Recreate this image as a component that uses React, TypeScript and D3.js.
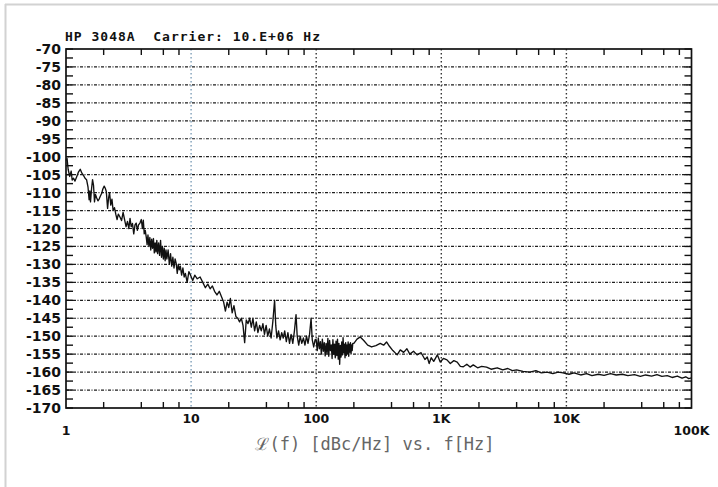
import React from "react";
import * as d3 from "d3";

const titleText = "HP 3048A  Carrier: 10.E+06 Hz";
const axisTitle = "ℒ(f) [dBc/Hz] vs. f[Hz]";
const yTicks = [-70, -75, -80, -85, -90, -95, -100, -105, -110, -115, -120, -125, -130, -135, -140, -145, -150, -155, -160, -165, -170];
const xDecades = [1, 10, 100, 1000, 10000, 100000];
const xLabels = ["1", "10", "100", "1K", "10K", "100K"];

// phase noise readings [frequency Hz, dBc/Hz]
const seg1: [number, number][] = [
  [1.0, -101.0], [1.02, -100.5], [1.04, -103.5], [1.07, -105.5], [1.1, -104.0], [1.12, -106.5], [1.15, -106.0],
  [1.18, -106.8], [1.22, -105.5], [1.26, -104.2], [1.3, -103.5], [1.34, -104.6], [1.38, -105.2], [1.42, -106.0],
  [1.46, -106.4], [1.5, -108.5], [1.53, -112.0], [1.55, -109.5], [1.57, -112.6], [1.6, -109.0], [1.63, -106.4],
  [1.66, -108.0], [1.69, -112.6], [1.72, -110.5], [1.76, -111.5], [1.8, -112.3], [1.84, -111.8], [1.88, -111.0],
  [1.93, -110.2], [1.97, -109.0], [2.02, -108.2], [2.06, -108.8], [2.1, -109.7], [2.15, -114.4], [2.19, -111.5],
  [2.23, -110.0], [2.28, -113.5], [2.33, -111.8], [2.38, -115.0], [2.44, -114.2], [2.5, -116.0], [2.56, -117.5],
  [2.62, -116.0], [2.7, -116.8], [2.78, -117.8], [2.86, -115.5], [2.94, -117.5], [3.02, -119.5], [3.1, -118.0],
  [3.18, -120.0], [3.25, -117.2], [3.32, -119.5], [3.4, -118.6], [3.48, -121.5], [3.56, -119.0], [3.64, -118.5],
  [3.72, -120.5], [3.8, -119.0], [3.9, -118.5], [4.0, -117.5], [4.08, -120.0], [4.15, -117.7], [4.22, -121.5],
  [4.3, -120.5], [4.38, -122.4], [4.45, -124.5], [4.52, -121.8], [4.6, -125.0], [4.68, -122.5], [4.76, -126.0],
  [4.84, -123.0], [4.92, -125.5], [5.0, -122.8], [5.08, -126.8], [5.16, -124.0], [5.24, -126.5], [5.32, -123.3],
  [5.4, -127.0], [5.5, -124.0], [5.6, -127.5], [5.7, -123.3], [5.8, -128.0], [5.9, -125.0], [6.0, -128.5],
  [6.1, -125.5], [6.2, -129.0], [6.3, -126.0], [6.4, -128.5], [6.55, -126.0], [6.7, -130.0], [6.85, -127.0],
  [7.0, -130.5], [7.15, -128.0], [7.3, -131.0], [7.45, -128.5], [7.6, -129.7], [7.75, -132.5], [7.9, -130.0],
  [8.05, -131.5], [8.2, -130.5], [8.4, -133.0], [8.6, -131.0], [8.8, -133.5], [9.0, -132.5], [9.3, -135.0],
  [9.6, -132.0], [9.9, -133.0],
];
const seg2: [number, number][] = [
  [10.3, -134.5], [10.7, -133.0], [11.2, -134.0], [11.8, -133.5], [12.4, -135.0], [13.0, -136.5], [13.6, -135.5],
  [14.2, -136.8], [14.8, -136.0], [15.4, -137.5], [16.1, -138.5], [16.8, -137.5], [17.5, -139.0], [18.2, -140.5],
  [18.8, -143.0], [19.4, -140.5], [20.0, -142.0], [20.6, -139.5], [21.3, -143.5], [22.0, -141.5], [22.8, -144.5],
  [23.6, -145.0], [24.4, -146.0], [25.2, -145.0], [26.0, -147.0], [26.8, -151.8], [27.6, -145.5], [28.5, -146.5],
  [29.4, -145.0], [30.3, -147.5], [31.2, -145.0], [32.2, -148.5], [33.2, -146.0], [34.2, -149.0], [35.3, -147.0],
  [36.4, -148.5], [37.5, -146.5], [38.6, -149.5], [39.8, -147.0], [41.0, -150.0], [42.3, -148.0], [43.6, -150.5],
  [45.0, -146.0], [46.5, -140.0], [47.5, -147.0], [48.5, -150.5], [50.0, -148.5], [51.5, -151.0], [53.0, -149.0],
  [54.5, -150.5], [56.0, -148.5], [57.7, -151.5], [59.4, -149.0], [61.2, -152.0], [63.0, -149.5], [65.0, -152.0],
  [67.0, -148.5], [69.0, -144.0], [70.5, -150.0], [72.5, -152.5], [74.5, -150.0], [76.7, -152.0], [79.0, -150.5],
  [81.3, -152.5], [83.7, -150.0], [86.0, -152.0], [88.5, -149.5], [91.0, -145.0], [93.0, -151.0], [95.5, -153.0],
  [98.0, -151.0],
];
const seg3: [number, number][] = [
  [100, -151.0], [102, -154.0], [104, -150.5], [106, -153.5], [108, -151.5], [110, -155.0], [112, -150.8],
  [114, -154.2], [116, -151.8], [118, -155.5], [120, -152.0], [122, -154.8], [124, -150.6], [126, -155.6],
  [128, -151.2], [130, -154.0], [132, -152.4], [134, -156.2], [136, -151.0], [138, -155.0], [140, -152.2],
  [142, -156.0], [144, -151.4], [146, -155.4], [148, -150.8], [150, -156.4], [152, -152.0], [154, -157.8],
  [156, -152.6], [158, -155.8], [160, -151.6], [162, -155.2], [164, -150.4], [166, -154.6], [168, -152.2],
  [170, -156.0], [172, -151.8], [174, -155.4], [176, -152.4], [178, -154.8], [180, -151.6], [182, -155.6],
  [184, -152.2], [186, -154.4], [188, -151.8], [190, -154.8], [192, -152.4], [194, -154.0], [196, -152.0],
  [200, -152.0], [212, -150.8], [225, -150.2], [240, -151.2], [258, -152.5], [277, -153.0], [300, -152.6],
  [325, -152.0], [346, -152.5], [365, -151.6], [385, -152.8], [410, -154.0], [444, -155.2], [470, -153.8],
  [500, -154.5], [531, -153.5], [560, -155.0], [600, -154.2], [640, -155.2], [690, -154.6], [740, -156.5],
  [772, -155.8], [800, -157.6], [830, -156.0], [870, -157.0], [930, -155.2], [980, -157.2],
];
const seg4: [number, number][] = [
  [1040, -156.2], [1110, -156.6], [1180, -157.6], [1260, -156.8], [1340, -157.2], [1420, -158.4], [1500, -158.5],
  [1600, -157.8], [1700, -158.6], [1800, -158.0], [1950, -158.8], [2100, -158.4], [2300, -158.6], [2500, -159.2],
  [2800, -158.8], [3100, -159.4], [3400, -159.0], [3700, -159.6], [4000, -159.4], [4500, -159.8], [5100, -160.0],
  [5700, -159.6], [6300, -160.2], [7000, -160.0], [7800, -160.4], [8600, -160.0], [9400, -160.2], [10500, -160.6],
  [11500, -160.2], [13000, -160.8], [14500, -160.4], [16000, -161.0], [18000, -160.6], [20000, -160.9],
  [22500, -160.4], [25000, -160.8], [28000, -160.6], [31000, -161.0], [35000, -160.7], [39000, -161.2],
  [43000, -160.8], [48000, -161.1], [53000, -160.7], [58000, -161.2], [64000, -161.0], [70000, -161.5],
  [77000, -161.1], [84000, -161.7], [90000, -161.3], [95000, -161.8], [100000, -161.6],
];

export default function App() {
  const W = 718, H = 487;
  const x = d3.scaleLog().domain([1, 1e5]).range([66, 691.5]);
  const y = d3.scaleLinear().domain([-170, -70]).range([408, 49]);
  const data = [...seg1, ...seg2, ...seg3, ...seg4];
  const line = d3.line<[number, number]>().x((d) => x(d[0])).y((d) => y(d[1]));

  const minorX: number[] = [];
  xDecades.slice(0, -1).forEach((dec) => [2, 4, 6, 8].forEach((m) => minorX.push(dec * m)));
  const yMinor = d3.range(-170, -69.9, 2.5);
  const [x0, x1] = x.range();
  const [yB, yT] = y.range();

  return (
    <svg width={W} height={H} style={{ position: "absolute", left: 0, top: 0, background: "#fff" }}>
      <rect x={0} y={0} width={W} height={H} fill="#fff" />
      <line x1={5} y1={4.5} x2={W} y2={4.5} stroke="#d2d2d2" strokeWidth={2} />
      <line x1={5.5} y1={4} x2={5.5} y2={H} stroke="#d2d2d2" strokeWidth={2} />

      {/* horizontal grid */}
      {yTicks.slice(1, -1).map((v) => (
        <line key={"hg" + v} x1={x0} x2={x1} y1={y(v)} y2={y(v)} stroke="#1e1e1e" strokeWidth={1.2} strokeDasharray="3,1.5,1,1.5" />
      ))}
      {/* vertical grid */}
      {xDecades.slice(1, -1).map((v) => (
        <line key={"vg" + v} x1={x(v)} x2={x(v)} y1={yT} y2={yB} stroke={v === 10 ? "#7f9fb8" : "#333"} strokeWidth={1.4} strokeDasharray="1.5,2.5" />
      ))}

      {/* ticks */}
      {minorX.map((v) => (
        <g key={"mx" + v}>
          <line x1={x(v)} x2={x(v)} y1={yB} y2={yB - 6} stroke="#111" strokeWidth={1.4} />
          <line x1={x(v)} x2={x(v)} y1={yT} y2={yT + 6} stroke="#111" strokeWidth={1.4} />
        </g>
      ))}
      {yMinor.map((v) => (
        <g key={"my" + v}>
          <line x1={x0} x2={x0 + 7} y1={y(v)} y2={y(v)} stroke="#111" strokeWidth={1.4} />
          <line x1={x1} x2={x1 - 7} y1={y(v)} y2={y(v)} stroke="#111" strokeWidth={1.4} />
        </g>
      ))}

      {/* frame */}
      <rect x={x0} y={yT} width={x1 - x0} height={yB - yT} fill="none" stroke="#111" strokeWidth={1.7} />

      {/* data */}
      <path d={line(data) || ""} fill="none" stroke="#111" strokeWidth={1.35} strokeLinejoin="round" />

      {/* y labels */}
      {yTicks.map((v) => (
        <text key={"yl" + v} x={61} y={y(v)} dy="0.36em" textAnchor="end" fontFamily="'DejaVu Sans', Verdana, sans-serif" fontWeight="bold" fontSize={14} fill="#111">
          {String(v)}
        </text>
      ))}
      {/* x labels */}
      {xDecades.map((v, i) => (
        <text key={"xl" + v} x={x(v)} y={i === 0 || i === xDecades.length - 1 ? 430 : 418} dy="0.36em" textAnchor="middle" fontFamily="'DejaVu Sans', Verdana, sans-serif" fontWeight="bold" fontSize={12.5} fill="#111">
          {xLabels[i]}
        </text>
      ))}

      <text x={65} y={40.5} fontFamily="'DejaVu Sans Mono', monospace" fontWeight="bold" fontSize={13} letterSpacing={1.0} fill="#111" style={{ whiteSpace: "pre" }}>
        {titleText}
      </text>
      <text x={375} y={450} textAnchor="middle" fontFamily="'DejaVu Sans Mono', monospace" fontSize={17} fill="#666" style={{ whiteSpace: "pre" }}>
        {axisTitle}
      </text>
    </svg>
  );
}
